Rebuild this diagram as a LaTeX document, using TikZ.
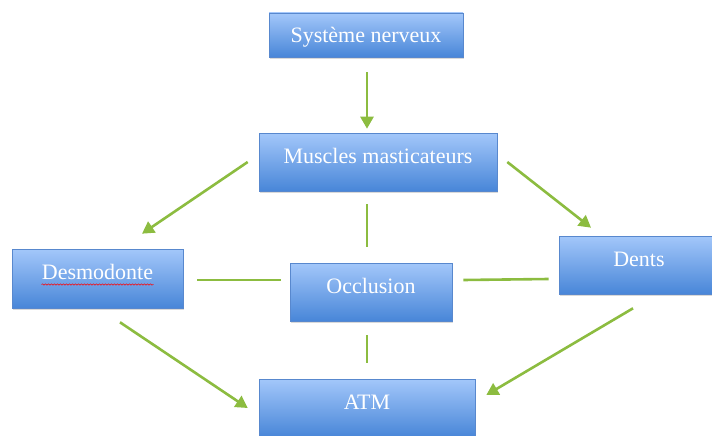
\documentclass[tikz,border=0pt]{standalone}
\usepackage{fontspec}
\setmainfont{Liberation Serif}
\usetikzlibrary{arrows.meta,shadows,decorations.pathmorphing}
\definecolor{vertlien}{RGB}{140,188,64}
\definecolor{bleuhaut}{RGB}{163,199,250}
\definecolor{bleumilieu}{RGB}{132,178,244}
\definecolor{bleubas}{RGB}{72,134,216}
\definecolor{bleubord}{RGB}{88,136,206}
\begin{document}
\begin{tikzpicture}[x=1pt,y=-1pt,
  boite/.style={draw=bleubord,line width=0.6pt,top color=bleuhaut,middle color=bleumilieu,bottom color=bleubas,
    text=white,font=\fontsize{22}{24}\selectfont,inner sep=0pt,text height=30pt,
    drop shadow={shadow xshift=1pt,shadow yshift=-2pt,opacity=0.3}},
  lien/.style={vertlien,line width=2.6pt},
  >={Triangle[length=12pt,width=13pt]}]
\useasboundingbox (0,0) rectangle (712,436);
\node[boite,minimum width=194pt,text depth=14pt] (sn) at (366,35) {Système nerveux};
\node[boite,minimum width=238pt,text depth=28pt] (mm) at (378,162) {Muscles masticateurs};
\node[boite,minimum width=162pt,text depth=28pt] (occ) at (371,292) {Occlusion};
\node[boite,minimum width=171pt,text depth=29pt] (desmo) at (97.5,278.5) {Desmodonte};
\node[boite,minimum width=160pt,text depth=28pt] (dents) at (639,265) {Dents};
\node[boite,minimum width=216pt,text depth=28pt] (atm) at (367,408) {ATM};
% soulignement du correcteur
\draw[red,line width=0.5pt,decorate,decoration={snake,amplitude=0.7pt,segment length=3pt}]
  ([xshift=-56pt,yshift=-5.5pt]desmo.base) -- ([xshift=56pt,yshift=-5.5pt]desmo.base);
\draw[lien,->] ([xshift=1pt,yshift=-15pt]sn.south) -- ([xshift=-11pt,yshift=4pt]mm.north);
\draw[lien,->] ([xshift=-11pt]mm.west) -- ([xshift=44.5pt,yshift=15pt]desmo.north);
\draw[lien,->] ([xshift=10pt]mm.east) -- ([xshift=-48pt,yshift=8pt]dents.north);
\draw[lien] ([xshift=-11pt,yshift=-13pt]mm.south) -- ([xshift=-4pt,yshift=16pt]occ.north);
\draw[lien] ([xshift=14pt,yshift=-1.5pt]desmo.east) -- ([xshift=-9pt,yshift=12pt]occ.west);
\draw[lien] ([xshift=11pt,yshift=12pt]occ.east) -- ([xshift=-10pt,yshift=-14pt]dents.west);
\draw[lien] ([xshift=-4pt,yshift=-14pt]occ.south) -- ([yshift=16pt]atm.north);
\draw[lien,->] ([xshift=22.5pt,yshift=-14pt]desmo.south) -- ([xshift=-11pt]atm.west);
\draw[lien,->] ([xshift=-6pt,yshift=-14pt]dents.south) -- ([xshift=11pt,yshift=13pt]atm.east);
\end{tikzpicture}
\end{document}
